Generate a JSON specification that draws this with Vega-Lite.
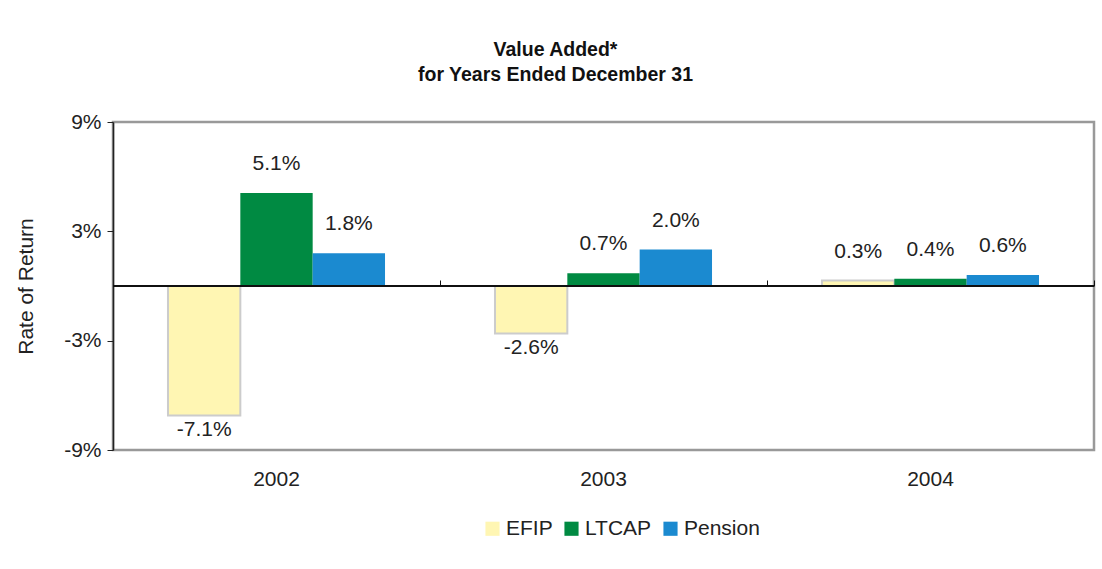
{
  "$schema": "https://vega.github.io/schema/vega-lite/v6.json",
  "width": 981,
  "height": 328,
  "autosize": "none",
  "padding": {"left": 113, "top": 122, "right": 8, "bottom": 119},
  "background": "white",
  "config": {
    "font": "Liberation Sans",
    "view": {"stroke": "#999999", "strokeWidth": 2.5},
    "locale": {
      "number": {"decimal": ".", "thousands": ",", "grouping": [3], "currency": ["$", ""], "minus": "-"}
    }
  },
  "title": {
    "text": ["Value Added*", "for Years Ended December 31"],
    "fontSize": 19.5,
    "fontWeight": "bold",
    "color": "#111111",
    "lineHeight": 25,
    "offset": 26,
    "anchor": "middle",
    "dx": -48
  },
  "data": {
    "values": [
      {"year": "2002", "series": "EFIP", "value": -0.071},
      {"year": "2002", "series": "LTCAP", "value": 0.051},
      {"year": "2002", "series": "Pension", "value": 0.018},
      {"year": "2003", "series": "EFIP", "value": -0.026},
      {"year": "2003", "series": "LTCAP", "value": 0.007},
      {"year": "2003", "series": "Pension", "value": 0.020},
      {"year": "2004", "series": "EFIP", "value": 0.003},
      {"year": "2004", "series": "LTCAP", "value": 0.004},
      {"year": "2004", "series": "Pension", "value": 0.006}
    ]
  },
  "resolve": {"axis": {"x": "independent"}},
  "encoding": {
    "y": {
      "field": "value",
      "type": "quantitative",
      "scale": {"domain": [-0.09, 0.09], "nice": false, "zero": false},
      "axis": {
        "title": "Rate of Return",
        "titleFontSize": 21,
        "titleFontWeight": "normal",
        "titleColor": "#222222",
        "titlePadding": 27,
        "values": [-0.09, -0.03, 0.03, 0.09],
        "format": ".0%",
        "labelFontSize": 21,
        "labelColor": "#222222",
        "labelPadding": 6,
        "tickSize": 6,
        "tickColor": "#222222",
        "domainColor": "#222222",
        "domainWidth": 1.5,
        "grid": false
      }
    }
  },
  "layer": [
    {
      "mark": {"type": "bar", "strokeWidth": 2},
      "encoding": {
        "x": {
          "field": "year",
          "type": "nominal",
          "scale": {"paddingInner": 0, "paddingOuter": 0},
          "axis": {
            "title": null,
            "labelAngle": 0,
            "labelFontSize": 21,
            "labelColor": "#222222",
            "labelPadding": 18,
            "ticks": false,
            "domain": false
          }
        },
        "xOffset": {
          "field": "series",
          "type": "nominal",
          "scale": {"paddingOuter": 0.76, "paddingInner": 0}
        },
        "color": {
          "field": "series",
          "type": "nominal",
          "scale": {
            "domain": ["EFIP", "LTCAP", "Pension"],
            "range": ["#FFF6B3", "#008A42", "#1B8AD0"]
          },
          "legend": {
            "title": null,
            "orient": "none",
            "legendX": 369,
            "legendY": 396,
            "direction": "horizontal",
            "symbolType": "square",
            "symbolSize": 200,
            "symbolStrokeWidth": 0,
            "labelFontSize": 21,
            "labelColor": "#222222",
            "labelOffset": 3,
            "columnPadding": 8
          }
        },
        "stroke": {
          "condition": {"test": "datum.series === 'EFIP'", "value": "#CCCCCC"},
          "value": null
        }
      }
    },
    {
      "transform": [{"filter": "datum.value >= 0"}],
      "mark": {"type": "text", "baseline": "bottom", "dy": -19, "fontSize": 21, "color": "#222222"},
      "encoding": {
        "x": {"field": "year", "type": "nominal", "axis": null},
        "xOffset": {"field": "series", "type": "nominal"},
        "text": {"field": "value", "type": "quantitative", "format": ".1%"}
      }
    },
    {
      "transform": [{"filter": "datum.value < 0"}],
      "mark": {"type": "text", "baseline": "top", "dy": 4, "fontSize": 21, "color": "#222222"},
      "encoding": {
        "x": {"field": "year", "type": "nominal", "axis": null},
        "xOffset": {"field": "series", "type": "nominal"},
        "text": {"field": "value", "type": "quantitative", "format": ".1%"}
      }
    },
    {
      "mark": {"type": "rule", "color": "#111111", "strokeWidth": 1},
      "encoding": {
        "y": {"datum": 0}
      }
    },
    {
      "mark": {"type": "tick", "opacity": 0},
      "encoding": {
        "x": {
          "field": "year",
          "type": "nominal",
          "axis": {
            "offset": -164,
            "labels": false,
            "ticks": true,
            "tickBand": "extent",
            "tickSize": 6,
            "tickColor": "#111111",
            "tickWidth": 1,
            "domain": false,
            "title": null
          }
        },
        "y": {"datum": 0}
      }
    }
  ]
}
